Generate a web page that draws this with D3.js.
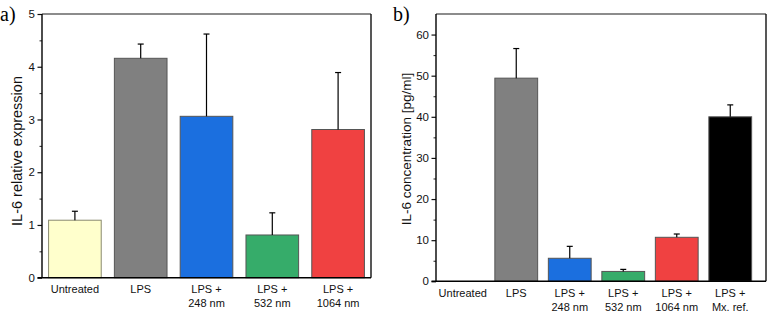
<!DOCTYPE html>
<html>
<head>
<meta charset="utf-8">
<script src="https://cdn.jsdelivr.net/npm/d3@7"></script>
<style>
  body { margin: 0; background: #fff; }
  svg { font-family: Arial, "Liberation Sans", sans-serif; }
</style>
</head>
<body>
<div id="chart"></div>
<script>
// panel a: relative expression
const catsA = ["Untreated", "LPS", "LPS +\n248 nm", "LPS +\n532 nm", "LPS +\n1064 nm"];
const valsA = [1.09, 4.16, 3.06, 0.81, 2.81];
const errA = [0.17, 0.27, 1.56, 0.42, 1.08];
const colorsA = ["#ffffcc", "#808080", "#1b6fdf", "#36ac6a", "#f04141"];
const ticksA = [0, 1, 2, 3, 4, 5];

// panel b: concentration
const catsB = ["Untreated", "LPS", "LPS +\n248 nm", "LPS +\n532 nm", "LPS +\n1064 nm", "LPS +\nMx. ref."];
const valsB = [0, 49.4, 5.6, 2.4, 10.7, 40.0];
const errB = [0, 7.2, 2.9, 0.5, 0.8, 2.9];
const colorsB = ["#ffffcc", "#808080", "#1b6fdf", "#36ac6a", "#f04141", "#000000"];
const ticksB = [0, 10, 20, 30, 40, 50, 60];

const width = 768, height = 314;
const svg = d3.select("#chart").append("svg")
    .attr("width", width)
    .attr("height", height);

function panel(opts) {
    const g = svg.append("g");
    const x = d3.scaleBand()
        .domain(opts.cats)
        .range([opts.left, opts.bandRight])
        .paddingInner(0.2)
        .paddingOuter(0.1);
    const y = d3.scaleLinear()
        .domain(opts.domain)
        .range([opts.bottom, opts.top]);

    // minor ticks
    g.append("g")
        .attr("transform", `translate(${opts.left},0)`)
        .call(d3.axisLeft(y).tickValues(opts.minor).tickSize(2.5).tickFormat(""))
        .call(s => s.select(".domain").remove())
        .call(s => s.selectAll("line").attr("stroke", "#222"));

    // major ticks
    g.append("g")
        .attr("transform", `translate(${opts.left},0)`)
        .call(d3.axisLeft(y).tickValues(opts.ticks).tickSize(4.5).tickPadding(2.5).tickFormat(d3.format("d")))
        .call(s => s.select(".domain").remove())
        .call(s => s.selectAll("line").attr("stroke", "#111").attr("stroke-width", 1.2))
        .call(s => s.selectAll("text").attr("font-size", "11.5px").attr("fill", "#111"));

    // bars
    g.selectAll("rect.bar")
        .data(opts.vals)
        .join("rect")
        .attr("class", "bar")
        .attr("x", (d, i) => x(opts.cats[i]))
        .attr("width", x.bandwidth())
        .attr("y", d => y(d))
        .attr("height", d => y(0) - y(d))
        .attr("fill", (d, i) => opts.colors[i])
        .attr("stroke", (d, i) => i === 0 ? "#8a8a70" : "#555")
        .attr("stroke-width", 1)
        .attr("display", d => d > 0 ? null : "none");

    // error bars (upper only)
    const eb = g.selectAll("g.err")
        .data(opts.vals.map((v, i) => ({ v, e: opts.err[i], c: opts.cats[i] })).filter(d => d.e > 0))
        .join("g")
        .attr("class", "err");
    eb.append("line")
        .attr("x1", d => x(d.c) + x.bandwidth() / 2)
        .attr("x2", d => x(d.c) + x.bandwidth() / 2)
        .attr("y1", d => y(d.v))
        .attr("y2", d => y(d.v + d.e))
        .attr("stroke", "#000")
        .attr("stroke-width", 1.2);
    eb.append("line")
        .attr("x1", d => x(d.c) + x.bandwidth() / 2 - 3)
        .attr("x2", d => x(d.c) + x.bandwidth() / 2 + 3)
        .attr("y1", d => y(d.v + d.e))
        .attr("y2", d => y(d.v + d.e))
        .attr("stroke", "#000")
        .attr("stroke-width", 1.2);

    // frame
    g.append("line").attr("x1", opts.left).attr("x2", opts.right)
        .attr("y1", opts.top).attr("y2", opts.top)
        .attr("stroke", "#666").attr("stroke-width", 1.6);
    g.append("line").attr("x1", opts.right).attr("x2", opts.right)
        .attr("y1", opts.top).attr("y2", opts.bottom)
        .attr("stroke", "#111").attr("stroke-width", 1.4);
    g.append("line").attr("x1", opts.left).attr("x2", opts.left)
        .attr("y1", opts.top).attr("y2", opts.bottom)
        .attr("stroke", "#000").attr("stroke-width", 1.4);

    // bottom axis with two-line labels
    const xa = g.append("g")
        .attr("transform", `translate(0,${opts.bottom})`)
        .call(d3.axisBottom(x).tickSize(0).tickPadding(0));
    xa.select(".domain").remove();
    xa.selectAll("text").each(function(d) {
        const t = d3.select(this).text("")
            .attr("font-size", "11px").attr("fill", "#111").attr("dy", null).attr("y", 15.5);
        d.split("\n").forEach((line, k) => {
            t.append("tspan").attr("x", 0).attr("dy", k === 0 ? 0 : 14).text(line);
        });
    });
    g.append("line").attr("x1", opts.left - 4.5).attr("x2", opts.right)
        .attr("y1", opts.bottom).attr("y2", opts.bottom)
        .attr("stroke", "#000").attr("stroke-width", 1.5);

    // y title
    g.append("text")
        .attr("transform", `translate(${opts.titleX},${opts.titleY}) rotate(-90)`)
        .attr("text-anchor", "middle")
        .attr("dy", "0.35em")
        .attr("font-size", opts.titleSize)
        .attr("fill", "#111")
        .text(opts.title);

    // panel letter
    g.append("text")
        .attr("x", opts.letterX)
        .attr("y", 21)
        .attr("font-family", "'Liberation Serif', 'DejaVu Serif', serif")
        .attr("font-size", "20px")
        .attr("fill", "#000")
        .text(opts.letter);
}

panel({
    cats: catsA, vals: valsA, err: errA, colors: colorsA,
    domain: [0, 5], ticks: ticksA, minor: d3.range(0.5, 5, 1),
    left: 42, right: 371, bandRight: 371, top: 14, bottom: 277.7,
    title: "IL-6 relative expression", titleX: 17, titleY: 151, titleSize: "14.5px",
    letter: "a)", letterX: 0
});

panel({
    cats: catsB, vals: valsB, err: errB, colors: colorsB,
    domain: [0, 65], ticks: ticksB, minor: d3.range(5, 65, 10),
    left: 436, right: 766, bandRight: 757, top: 14, bottom: 281.3,
    title: "IL-6 concentration [pg/ml]", titleX: 406, titleY: 149, titleSize: "13.5px",
    letter: "b)", letterX: 393
});
</script>
</body>
</html>
